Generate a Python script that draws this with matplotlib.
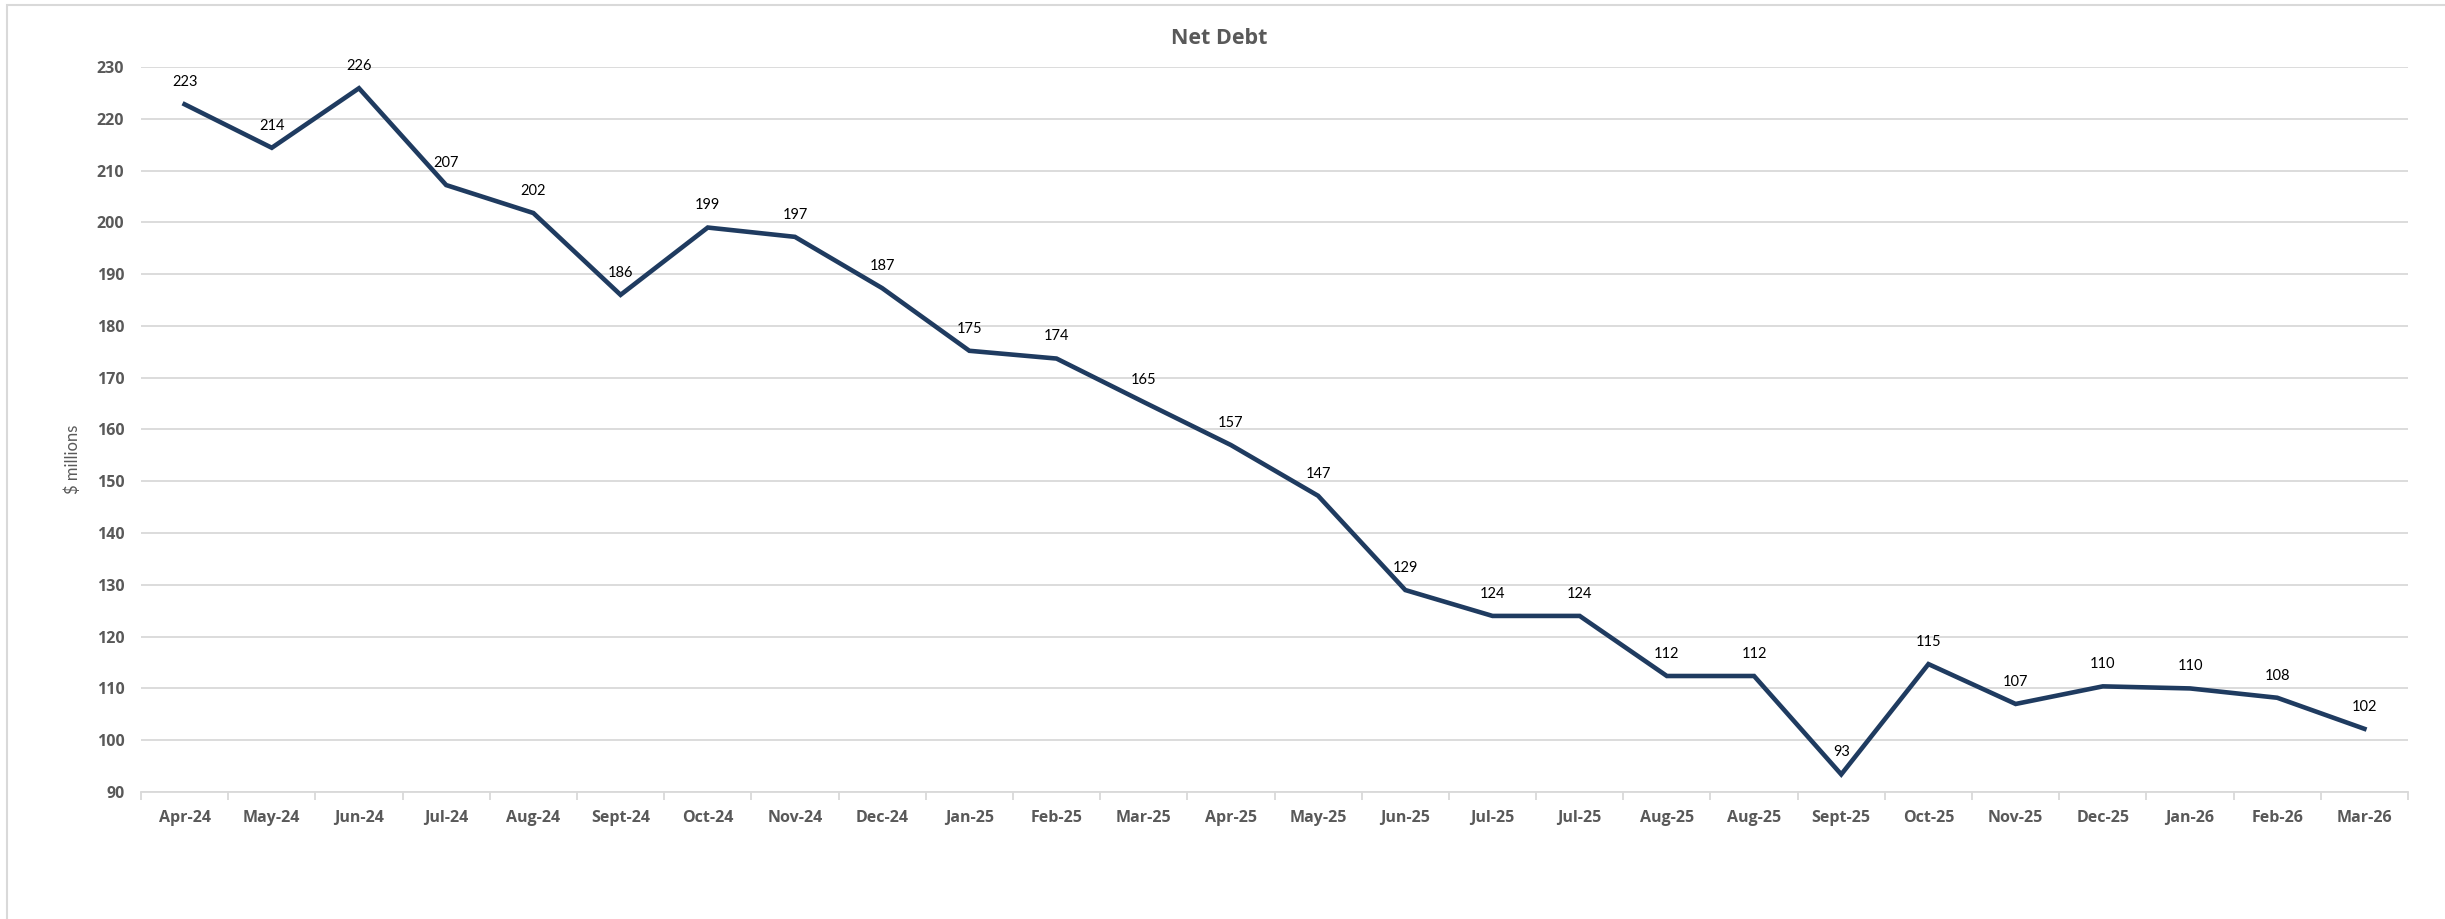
import matplotlib
matplotlib.use("Agg")
import matplotlib.pyplot as plt
from matplotlib.patches import Rectangle
import numpy as np

plt.rcParams['font.family'] = ['Lato', 'DejaVu Sans']
bold_font = ['Open Sans', 'DejaVu Sans']

months = ['Apr-24', 'May-24', 'Jun-24', 'Jul-24', 'Aug-24', 'Sept-24', 'Oct-24',
          'Nov-24', 'Dec-24', 'Jan-25', 'Feb-25', 'Mar-25', 'Apr-25', 'May-25',
          'Jun-25', 'Jul-25', 'Jul-25', 'Aug-25', 'Aug-25', 'Sept-25', 'Oct-25',
          'Nov-25', 'Dec-25', 'Jan-26', 'Feb-26', 'Mar-26']

net_debt = [222.8, 214.4, 225.9, 207.2, 201.8, 186.0, 199.0, 197.2, 187.3,
            175.2, 173.7, 165.3, 157.0, 147.2, 129.0, 124.0, 124.0, 112.4,
            112.4, 93.4, 114.7, 107.0, 110.4, 110.0, 108.2, 102.2]

yticks = list(range(90, 231, 10))

W, H = 2445, 919
fig = plt.figure(figsize=(W / 100, H / 100), dpi=100)
ax = fig.add_axes([141 / W, 1 - 792 / H, (2408 - 141) / W, (792 - 67) / H])

# chart area border (only top and left visible in the original)
fig.patches.append(Rectangle((7 / W, -0.1), 1.2, 1 - 5 / H + 0.1, transform=fig.transFigure,
                             fill=False, edgecolor='#d9d9d9', linewidth=1.5))

x = np.arange(len(months))
ax.plot(x, net_debt, color='#1f3b60', linewidth=3.3, solid_joinstyle='miter')

for xi, v in zip(x, net_debt):
    ax.annotate(f'{v:.0f}', (xi, v), xytext=(0, 16), textcoords='offset points',
                ha='center', va='center', fontsize=10.5, color='#000000')

ax.set_xlim(-0.5, len(months) - 0.5)
ax.set_ylim(90, 230)
ax.set_yticks(yticks)
ax.set_xticks(x)
ax.set_xticklabels(months)
ax.set_xticks(np.arange(-0.5, len(months), 1), minor=True)

ax.grid(axis='y', color='#d9d9d9', linewidth=1.3)
ax.set_axisbelow(True)
for s in ['top', 'right', 'left']:
    ax.spines[s].set_visible(False)
ax.spines['bottom'].set_color('#d9d9d9')
ax.spines['bottom'].set_linewidth(1.3)

ax.tick_params(axis='x', which='major', length=0, pad=13, labelsize=11.5, labelcolor='#595959')
ax.tick_params(axis='x', which='minor', length=6, width=1.3, color='#d9d9d9')
ax.tick_params(axis='y', length=0, pad=12, labelsize=11.5, labelcolor='#595959')
for lab in ax.get_xticklabels() + ax.get_yticklabels():
    lab.set_fontweight('bold')
    lab.set_family(bold_font)

fig.text(1219 / W, 1 - 39 / H, 'Net Debt', ha='center', va='center',
         fontsize=15.5, fontweight='bold', color='#595959', family=bold_font)
fig.text(73 / W, 1 - 459 / H, '$ millions', ha='center', va='center',
         rotation=90, fontsize=12, color='#595959')

fig.savefig('out.png', dpi=100)
